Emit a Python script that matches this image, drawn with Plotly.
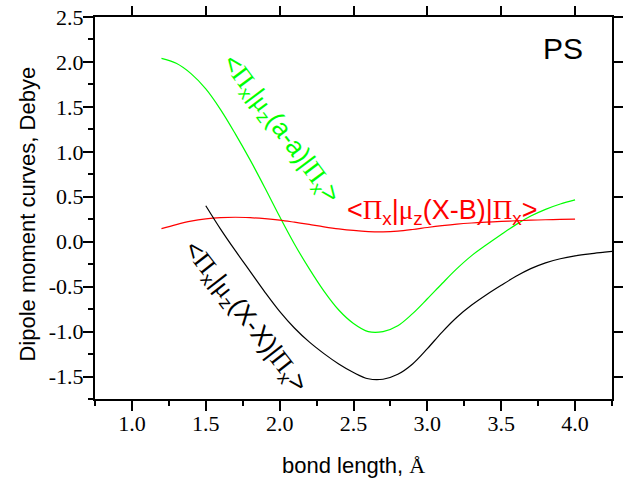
import plotly.graph_objects as go

# ---- data ----
green_x = [1.2, 1.3, 1.4, 1.5, 1.6, 1.7, 1.8, 1.9, 2.0, 2.1, 2.2, 2.3, 2.4, 2.5, 2.6, 2.7, 2.8, 2.9,
           3.0, 3.1, 3.2, 3.3, 3.4, 3.5, 3.6, 3.7, 3.8, 3.9, 4.0]
green_y = [2.04, 1.985, 1.87, 1.70, 1.47, 1.20, 0.91, 0.60, 0.28, -0.025, -0.30, -0.55, -0.76, -0.91, -1.0,
           -1.0, -0.935, -0.80, -0.635, -0.465, -0.30, -0.155, -0.035, 0.08, 0.19, 0.285, 0.36, 0.42, 0.465]

red_x = [1.2, 1.3, 1.4, 1.5, 1.6, 1.7, 1.8, 1.9, 2.0, 2.1, 2.2, 2.3, 2.4, 2.5, 2.6, 2.7, 2.8, 2.9,
         3.0, 3.1, 3.2, 3.3, 3.4, 3.5, 3.6, 3.7, 3.8, 3.9, 4.0]
red_y = [0.145, 0.19, 0.228, 0.253, 0.267, 0.272, 0.267, 0.256, 0.24, 0.217, 0.192, 0.166, 0.143, 0.125,
         0.113, 0.11, 0.118, 0.136, 0.158, 0.178, 0.195, 0.208, 0.218, 0.226, 0.233, 0.239, 0.244, 0.248, 0.252]

black_x = [1.5, 1.6, 1.7, 1.8, 1.9, 2.0, 2.1, 2.2, 2.3, 2.4, 2.5, 2.6, 2.7, 2.8, 2.9, 3.0, 3.1,
           3.2, 3.3, 3.4, 3.5, 3.6, 3.7, 3.8, 3.9, 4.0, 4.1, 4.2, 4.25]
black_y = [0.40, 0.14, -0.10, -0.33, -0.56, -0.775, -0.96, -1.115, -1.245, -1.36, -1.455, -1.525, -1.53,
           -1.475, -1.36, -1.19, -1.005, -0.84, -0.705, -0.59, -0.485, -0.385, -0.30, -0.235, -0.19,
           -0.158, -0.135, -0.117, -0.108]

x_ticks = [1.0, 1.5, 2.0, 2.5, 3.0, 3.5, 4.0]
x_ticktext = ["1.0", "1.5", "2.0", "2.5", "3.0", "3.5", "4.0"]
y_ticks = [-1.5, -1.0, -0.5, 0.0, 0.5, 1.0, 1.5, 2.0, 2.5]
y_ticktext = ["-1.5", "-1.0", "-0.5", "0.0", "0.5", "1.0", "1.5", "2.0", "2.5"]
x_range = [0.75, 4.25]
y_range = [-1.75, 2.5]

SERIF = "Liberation Serif"
SANS = "Liberation Sans"


def serif(t):
    return f"<span style='font-family:{SERIF}'>{t}</span>"


def label(mid):
    pi = serif("Π")
    mu = serif("μ")
    return f"&lt;{pi}<sub>x</sub>|{mu}<sub>z</sub>{mid}|{pi}<sub>x</sub>&gt;"


fig = go.Figure()
fig.add_trace(go.Scatter(x=green_x, y=green_y, mode="lines", line=dict(color="#00ff00", width=1.2, shape="spline")))
fig.add_trace(go.Scatter(x=red_x, y=red_y, mode="lines", line=dict(color="#ff0000", width=1.2, shape="spline")))
fig.add_trace(go.Scatter(x=black_x, y=black_y, mode="lines", line=dict(color="#000000", width=1.2, shape="spline")))
# dummy trace to activate the mirror axes
fig.add_trace(go.Scatter(x=[None], y=[None], xaxis="x2", yaxis="y2", showlegend=False, hoverinfo="skip"))

tickfont = dict(family=SERIF, size=22, color="black")

fig.update_layout(
    width=627, height=478,
    margin=dict(l=95, r=15, t=17, b=79),
    paper_bgcolor="white", plot_bgcolor="white",
    showlegend=False,
    xaxis=dict(range=x_range, tickvals=x_ticks, ticktext=[serif(t) for t in x_ticktext], ticks="outside",
               ticklen=10, tickwidth=2,
               tickcolor="black", showline=True, linewidth=2, linecolor="black", showgrid=False, zeroline=False,
               tickfont=tickfont, automargin=False, ticklabelstandoff=-6,
               minor=dict(dtick=0.25, tick0=0, ticks="outside", ticklen=5, tickwidth=2, tickcolor="black", showgrid=False)),
    yaxis=dict(range=y_range, tickvals=y_ticks, ticktext=[serif(t) for t in y_ticktext], ticks="outside",
               ticklen=10, tickwidth=2,
               tickcolor="black", showline=True, linewidth=2, linecolor="black", showgrid=False, zeroline=False,
               tickfont=tickfont, automargin=False, ticklabelstandoff=-5,
               minor=dict(dtick=0.25, tick0=0, ticks="outside", ticklen=5, tickwidth=2, tickcolor="black", showgrid=False)),
    xaxis2=dict(range=x_range, overlaying="x", side="top", anchor="y", tickvals=x_ticks, ticks="outside", ticklen=9,
                tickwidth=2, tickcolor="black", showline=True, linewidth=2, linecolor="black", showgrid=False,
                zeroline=False, showticklabels=False, automargin=False),
    yaxis2=dict(range=y_range, overlaying="y", side="right", anchor="x", tickvals=y_ticks, ticks="outside", ticklen=9,
                tickwidth=2, tickcolor="black", showline=True, linewidth=2, linecolor="black", showgrid=False,
                zeroline=False, showticklabels=False, automargin=False),
)

annotations = [
    dict(text="Dipole moment curves, Debye", xref="paper", yref="paper", x=-0.13, y=0.485, textangle=-90,
         showarrow=False, font=dict(family=SANS, size=22, color="black"), xanchor="center", yanchor="middle"),
    dict(text=f"bond length, {serif('Å')}", xref="paper", yref="paper", x=0.5, y=-0.175,
         showarrow=False, font=dict(family=SANS, size=22, color="black"), xanchor="center", yanchor="middle"),
    dict(text="PS", xref="paper", yref="paper", x=0.905, y=0.9175, showarrow=False,
         font=dict(family=SANS, size=30, color="black"), xanchor="center", yanchor="middle"),
    dict(text=label("(X-B)"), x=3.10, y=0.335, showarrow=False,
         font=dict(family=SANS, size=27, color="#ff0000"), xanchor="center", yanchor="middle"),
    dict(text=label("(a-a)"), x=2.01, y=1.25, showarrow=False, textangle=53,
         font=dict(family=SANS, size=26, color="#00ff00"), xanchor="center", yanchor="middle"),
    dict(text=label("(X-X)"), x=1.766, y=-0.83, showarrow=False, textangle=52,
         font=dict(family=SANS, size=26, color="#000000"), xanchor="center", yanchor="middle"),
]
fig.update_layout(annotations=annotations)

fig.write_html("out.html", config={"displayModeBar": False},
               post_script="document.body.style.margin='0';document.body.style.padding='0';")
